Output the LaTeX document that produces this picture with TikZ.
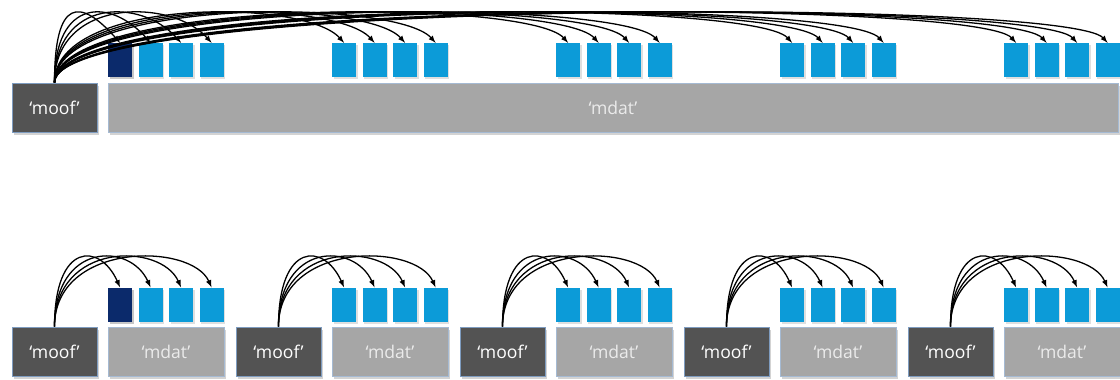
\documentclass[tikz,border=0pt]{standalone}
\usepackage{fontspec}
\setmainfont{Open Sans}
\usepackage{tikz}
\usetikzlibrary{shadows}
\usetikzlibrary{positioning}
\usetikzlibrary{arrows,shapes}
\definecolor{moofgray}{HTML}{535353}
\definecolor{mdatgray}{HTML}{A6A6A6}
\definecolor{boxedge}{HTML}{7E9CC0}
\definecolor{sampleblue}{HTML}{0C9BD8}
\definecolor{firstblue}{HTML}{0B2A6B}
\tikzstyle{moofbox}=[rectangle,fill=moofgray,draw=boxedge,line width=0.8pt,minimum width=25.5mm,minimum height=14.7mm,inner sep=0pt,text=white,font=\fontsize{15}{17}\selectfont,drop shadow={shadow xshift=0.7mm,shadow yshift=-0.9mm,opacity=0.35}]
\tikzstyle{mdatbox}=[moofbox,fill=mdatgray,draw=boxedge!70,text=white!92!black]
\tikzstyle{sample}=[rectangle,fill=sampleblue,minimum width=7.2mm,minimum height=10.2mm,inner sep=0pt,drop shadow={shadow xshift=0.5mm,shadow yshift=-0.6mm,opacity=0.25}]
\tikzstyle{firstsample}=[sample,fill=firstblue]
\tikzstyle{edge} = [draw,line width=1.1pt,->,>=latex]

\begin{document}
\begin{tikzpicture}[x=0.3mm,y=0.3mm]
    \useasboundingbox (0,0) rectangle (1120,379);

    % One 'moof' ahead of a single big 'mdat'
    \node[moofbox] (moof) at (54.5,271.5) {‘moof’};
    \node[mdatbox,minimum width=303mm] (mdat) at (613,271.5) {‘mdat’};

    % Samples inside the big 'mdat'
    \foreach \g in {0,...,4}
        \foreach \k in {0,...,3}
            \node[sample] (t\g\k) at ({120+224*\g+30.5*\k},319) {};
    \node[firstsample] at (t00) {};

    % Fragmented file: one 'moof' and one 'mdat' per fragment
    \foreach \g in {0,...,4} {
        \node[moofbox] (m\g) at ({54.5+224*\g},27.5) {‘moof’};
        \node[mdatbox,minimum width=34.8mm] (d\g) at ({166+224*\g},27.5) {‘mdat’};
        \foreach \k in {0,...,3}
            \node[sample] (b\g\k) at ({120+224*\g+30.5*\k},74.5) {};
    }
    \node[firstsample] at (b00) {};

    % Connect each 'moof' with the samples it describes
    \foreach \g in {0,...,4}
        \foreach \k in {0,...,3}
            \path[edge] (moof.north) .. controls +(0,85) and +(-40,45) .. (t\g\k.north);

    \foreach \g in {0,...,4}
        \foreach \k in {0,...,3}
            \path[edge] (m\g.north) .. controls +(0,85) and +(-20,45) .. (b\g\k.north);

\end{tikzpicture}
\end{document}
